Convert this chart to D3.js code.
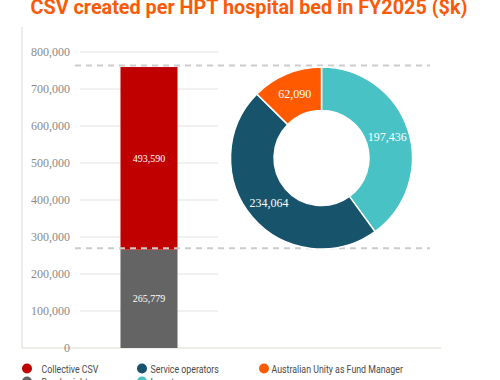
<!DOCTYPE html>
<html><head><meta charset="utf-8">
<script src="https://cdn.jsdelivr.net/npm/d3@7"></script>
<style>body{margin:0;background:#fff}svg{display:block}</style>
</head><body>
<script>
const title = "CSV created per HPT hospital bed in FY2025 ($k)";
const barCategories = ["Deadweight", "Collective CSV"];
const barValues = [265779, 493590];
const barColors = ["#646464", "#c00000"];
const yTicks = [0, 100000, 200000, 300000, 400000, 500000, 600000, 700000, 800000];
const donutCategories = ["Investors", "Service operators", "Australian Unity as Fund Manager"];
const donutValues = [197436, 234064, 62090];
const donutColors = ["#48c2c5", "#17536b", "#ff5a00"];
const legendItems = ["Collective CSV", "Service operators", "Australian Unity as Fund Manager", "Deadweight", "Investors"];
const legendColors = ["#c00000", "#17536b", "#ff5a00", "#646464", "#48c2c5"];

const W = 500, H = 380;
const svg = d3.select("body").append("svg").attr("width", W).attr("height", H);
const serif = "'Liberation Serif', 'DejaVu Serif', serif";
const sans = "Roboto, 'Noto Sans', sans-serif";

svg.append("text").attr("x", 249).attr("y", 14).attr("text-anchor", "middle")
  .attr("font-family", sans).attr("font-weight", "bold").attr("font-size", 19.8)
  .attr("fill", "#fa5a0a").text(title);

const y = d3.scaleLinear().domain([0, 800000]).range([348, 52]);

// axis frame
svg.append("line").attr("x1", 22).attr("x2", 22).attr("y1", 27).attr("y2", 348)
  .attr("stroke", "#e2e0d8").attr("stroke-width", 1.2);
svg.append("line").attr("x1", 22).attr("x2", 441).attr("y1", y(0)).attr("y2", y(0))
  .attr("stroke", "#e8e6df").attr("stroke-width", 1.5);

// gridlines
svg.append("g").selectAll("line").data(yTicks.filter(d => d > 0)).join("line")
  .attr("x1", 80).attr("x2", 218).attr("y1", d => y(d)).attr("y2", d => y(d))
  .attr("stroke", "#e3e3e3").attr("stroke-width", 1);

// y axis labels
const yAxis = d3.axisLeft(y).tickValues(yTicks).tickSize(0).tickPadding(0)
  .tickFormat(d3.format(","));
const gy = svg.append("g").attr("transform", "translate(70,0)").call(yAxis);
gy.select(".domain").remove();
gy.selectAll("text").attr("font-family", serif).attr("font-size", 12).attr("fill", "#8a8a8a");
gy.selectAll(".tick").filter(d => d === 0).select("text").attr("text-anchor", "middle").attr("x", -3);

// stacked bar
const x = d3.scaleBand().domain(["FY2025"]).range([80, 218]).paddingInner(0).paddingOuter(0.71);
let cum = 0;
const stacks = barValues.map((v, i) => { const s = {y0: cum, y1: cum + v, v, c: barColors[i]}; cum += v; return s; });
svg.append("g").selectAll("rect").data(stacks).join("rect")
  .attr("x", x("FY2025")).attr("width", x.bandwidth())
  .attr("y", d => y(d.y1)).attr("height", d => y(d.y0) - y(d.y1))
  .attr("fill", d => d.c);
svg.append("g").selectAll("text").data(stacks).join("text")
  .attr("x", x("FY2025") + x.bandwidth() / 2).attr("y", d => (y(d.y0) + y(d.y1)) / 2 + 3.5)
  .attr("text-anchor", "middle").attr("font-family", serif).attr("font-size", 10)
  .attr("fill", "#fff").text(d => d3.format(",")(d.v));

// dashed connector lines
svg.append("g").selectAll("line").data([cum, barValues[0]]).join("line")
  .attr("x1", 75).attr("x2", 430).attr("y1", d => y(d) - 1.5).attr("y2", d => y(d) - 1.5)
  .attr("stroke", "#cccccc").attr("stroke-width", 2).attr("stroke-dasharray", "6,5");

// donut
const cx = 321.5, cy = 158, R = 91, r = 47.5;
const pie = d3.pie().sort(null).value(d => d)(donutValues);
const arc = d3.arc().innerRadius(r).outerRadius(R);
const gd = svg.append("g").attr("transform", `translate(${cx},${cy})`);
gd.selectAll("path").data(pie).join("path").attr("d", arc)
  .attr("fill", (d, i) => donutColors[i]).attr("stroke", "#fff").attr("stroke-width", 1.5);
gd.selectAll("text").data(pie).join("text")
  .attr("transform", d => `translate(${arc.centroid(d)})`).attr("dy", 4)
  .attr("text-anchor", "middle").attr("font-family", serif).attr("font-size", 12)
  .attr("fill", "#fff").text(d => d3.format(",")(d.value));

// legend
const legPos = [[27, 368.5, 41.5], [142, 368.5, 150.5], [264, 368.5, 271.5], [27, 381.5, 41.5], [142, 381.5, 150.5]];
const gl = svg.append("g");
legendItems.forEach((t, i) => {
  const [lx, ly, tx] = legPos[i];
  gl.append("circle").attr("cx", lx).attr("cy", ly).attr("r", 5).attr("fill", legendColors[i]);
  const tt = gl.append("text").attr("x", tx).attr("y", ly + 4.5).attr("font-family", sans)
    .attr("font-size", 11).attr("fill", "#4a4a4a").text(t);
  const len = tt.node().getComputedTextLength();
  tt.attr("textLength", len * 0.8).attr("lengthAdjust", "spacingAndGlyphs");
});
</script>
</body></html>
